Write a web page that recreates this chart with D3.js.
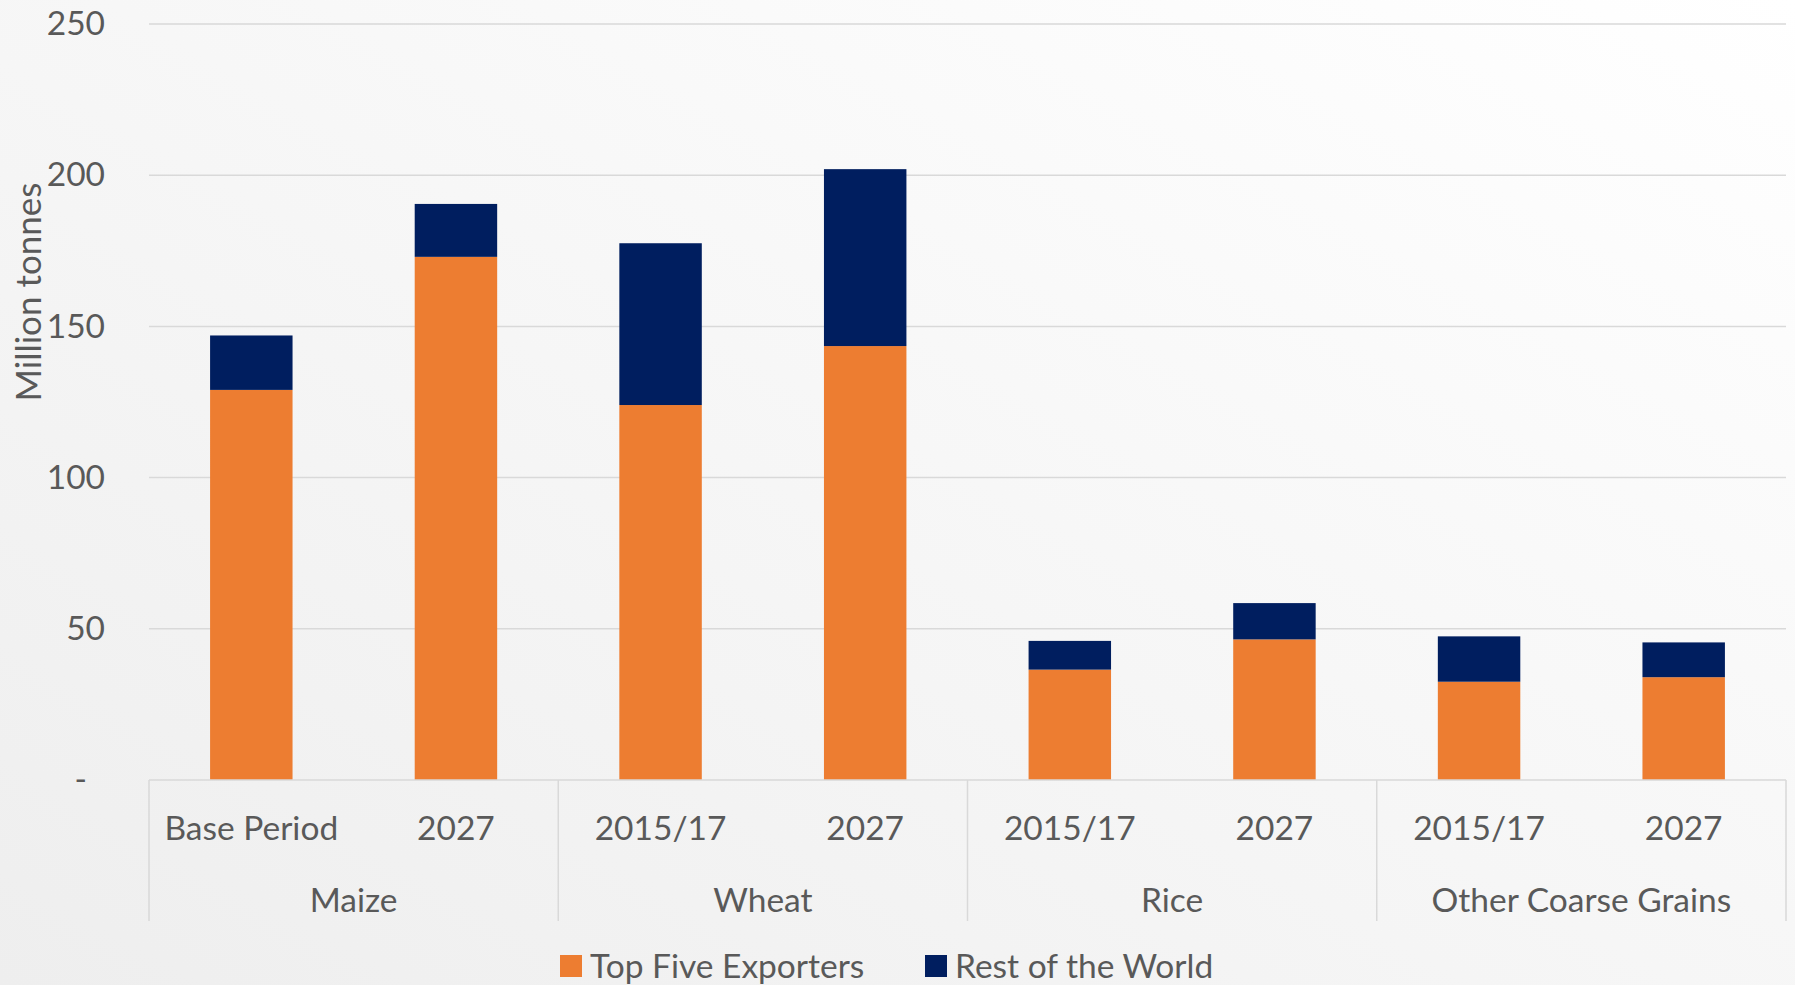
<!DOCTYPE html>
<html>
<head>
<meta charset="utf-8">
<script src="https://cdn.jsdelivr.net/npm/d3@7"></script>
<style>
  body { margin: 0; overflow: hidden; }
  text { font-family: Lato, "Open Sans", sans-serif; fill: #595959; }
</style>
</head>
<body>
<div id="chart"></div>
<script>
const groups = ["Maize", "Wheat", "Rice", "Other Coarse Grains"];
const categories = ["Base Period", "2027", "2015/17", "2027", "2015/17", "2027", "2015/17", "2027"];
const categoryGroups = ["Maize", "Maize", "Wheat", "Wheat", "Rice", "Rice", "Other Coarse Grains", "Other Coarse Grains"];
const topFive = [129, 173, 124, 143.5, 36.5, 46.5, 32.5, 34];
const restOfWorld = [18, 17.5, 53.5, 58.5, 9.5, 12, 15, 11.5];
const seriesNames = ["Top Five Exporters", "Rest of the World"];
const seriesColors = ["#ed7d31", "#001e5f"];
const yTicks = [0, 50, 100, 150, 200, 250];

const svgWidth = 1795;
const svgHeight = 985;
const plot = { left: 149, right: 1786, top: 24, bottom: 780 };
const fontSize = "33.5px";

const svg = d3.select("#chart")
    .append("svg")
    .attr("width", svgWidth)
    .attr("height", svgHeight);

// soft gradient background like the original slide
const grad = svg.append("defs").append("linearGradient")
    .attr("id", "bg")
    .attr("x1", "0").attr("y1", "1").attr("x2", "1").attr("y2", "0");
grad.append("stop").attr("offset", "0%").attr("stop-color", "#eeeeee");
grad.append("stop").attr("offset", "100%").attr("stop-color", "#ffffff");
svg.append("rect")
    .attr("width", svgWidth)
    .attr("height", svgHeight)
    .attr("fill", "url(#bg)");

const rows = categories.map((c, i) => ({
    key: i,
    label: c,
    group: categoryGroups[i],
    top: topFive[i],
    rest: restOfWorld[i]
}));

const xScale = d3.scaleBand()
    .domain(rows.map(d => d.key))
    .range([plot.left, plot.right])
    .paddingInner(0.597)
    .paddingOuter(0.2985);

const groupScale = d3.scaleBand()
    .domain(groups)
    .range([plot.left, plot.right]);

const yScale = d3.scaleLinear()
    .domain([0, 250])
    .range([plot.bottom, plot.top]);

// gridlines
svg.append("g")
    .selectAll("line")
    .data(yTicks.filter(d => d > 0))
    .enter()
    .append("line")
    .attr("x1", plot.left)
    .attr("x2", plot.right)
    .attr("y1", d => yScale(d))
    .attr("y2", d => yScale(d))
    .attr("stroke", "#d9d9d9")
    .attr("stroke-width", 1.5);

// y axis labels
const leftAxis = d3.axisLeft(yScale)
    .tickValues(yTicks)
    .tickSize(0)
    .tickPadding(0)
    .tickFormat(d => d === 0 ? "-" : d);

const yAxis = svg.append("g")
    .attr("transform", "translate(105, 0)")
    .call(leftAxis);
yAxis.select(".domain").remove();
yAxis.selectAll("text")
    .attr("font-size", fontSize)
    .attr("fill", "#595959")
    .attr("font-family", "Lato, sans-serif")
    .attr("dx", d => d === 0 ? -18 : 0);

svg.append("text")
    .attr("transform", "rotate(-90)")
    .attr("x", -292)
    .attr("y", 41)
    .attr("font-size", "35px")
    .attr("text-anchor", "middle")
    .text("Million tonnes");

// stacked bars
const stack = d3.stack().keys(["top", "rest"]);
const stacked = stack(rows);

svg.append("g")
    .selectAll("g")
    .data(stacked)
    .enter()
    .append("g")
    .attr("fill", (d, i) => seriesColors[i])
    .selectAll("rect")
    .data(d => d)
    .enter()
    .append("rect")
    .attr("x", d => xScale(d.data.key))
    .attr("width", xScale.bandwidth())
    .attr("y", d => yScale(d[1]))
    .attr("height", d => yScale(d[0]) - yScale(d[1]));

// category axis line and group separators
svg.append("line")
    .attr("x1", plot.left)
    .attr("x2", plot.right)
    .attr("y1", plot.bottom)
    .attr("y2", plot.bottom)
    .attr("stroke", "#d9d9d9")
    .attr("stroke-width", 1.5);

const sepX = groups.map(g => groupScale(g)).concat([plot.right]);
svg.append("g")
    .selectAll("line")
    .data(sepX)
    .enter()
    .append("line")
    .attr("x1", d => d)
    .attr("x2", d => d)
    .attr("y1", plot.bottom)
    .attr("y2", 921)
    .attr("stroke", "#d9d9d9")
    .attr("stroke-width", 1.5);

// sub-category labels
svg.append("g")
    .selectAll("text")
    .data(rows)
    .enter()
    .append("text")
    .attr("x", d => xScale(d.key) + xScale.bandwidth() / 2)
    .attr("y", 840)
    .attr("font-size", fontSize)
    .attr("text-anchor", "middle")
    .text(d => d.label);

// group labels
svg.append("g")
    .selectAll("text")
    .data(groups)
    .enter()
    .append("text")
    .attr("x", d => groupScale(d) + groupScale.bandwidth() / 2)
    .attr("y", 912)
    .attr("font-size", fontSize)
    .attr("text-anchor", "middle")
    .text(d => d);

// legend
const legendX = [560, 925];
const legend = svg.append("g")
    .selectAll("g")
    .data(seriesNames)
    .enter()
    .append("g")
    .attr("transform", (d, i) => `translate(${legendX[i]}, 966)`);
legend.append("rect")
    .attr("x", 0)
    .attr("y", -11)
    .attr("width", 22)
    .attr("height", 22)
    .attr("fill", (d, i) => seriesColors[i]);
legend.append("text")
    .attr("x", 30)
    .attr("y", 12)
    .attr("font-size", fontSize)
    .text(d => d);
</script>
</body>
</html>
